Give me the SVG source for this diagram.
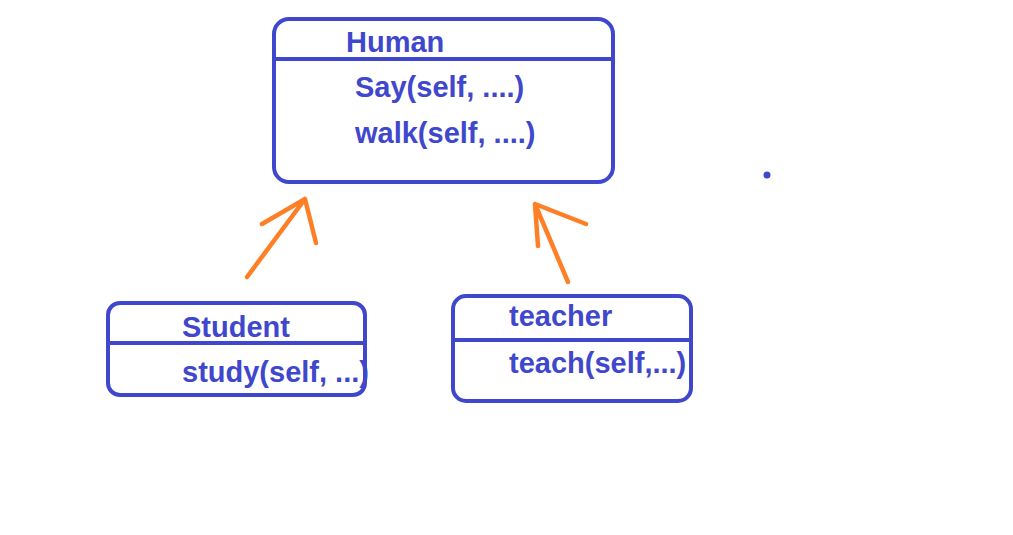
<svg xmlns="http://www.w3.org/2000/svg" width="1013" height="535" viewBox="0 0 1013 535">
<style>
.box{fill:none;stroke:#3F48CC;stroke-width:4}
.div{stroke:#3F48CC;stroke-width:4}
.t{font-family:"Liberation Sans",Arial,sans-serif;font-weight:bold;font-size:29px;fill:#3F48CC}
.arr{fill:none;stroke:#FF7F27;stroke-width:4.5;stroke-linecap:round;stroke-linejoin:round}
</style>
<rect width="1013" height="535" fill="#ffffff"/>
<g id="human">
<rect class="box" x="274" y="19" width="339" height="163" rx="15"/>
<line class="div" x1="274" y1="59" x2="613" y2="59"/>
<text class="t" x="346" y="52">Human</text>
<text class="t" x="355" y="97">Say(self, ....)</text>
<text class="t" x="355" y="143">walk(self, ....)</text>
</g>
<g id="student">
<rect class="box" x="108" y="303" width="257" height="92" rx="12"/>
<line class="div" x1="108" y1="343" x2="365" y2="343"/>
<text class="t" x="182" y="337">Student</text>
<text class="t" x="182" y="382">study(self, ...)</text>
</g>
<g id="teacher">
<rect class="box" x="453" y="296" width="238" height="105" rx="13"/>
<line class="div" x1="453" y1="340" x2="691" y2="340"/>
<text class="t" x="509" y="326">teacher</text>
<text class="t" x="509" y="373">teach(self,...)</text>
</g>
<g id="connectors">
<path class="arr" d="M247,277 L305,199 M262,224 L305,199 L316,243"/>
<path class="arr" d="M568,282 L535,204 M586,224 L535,204 L538,246"/>
</g>
<circle cx="767" cy="175" r="3.5" fill="#3F48CC"/>
</svg>
